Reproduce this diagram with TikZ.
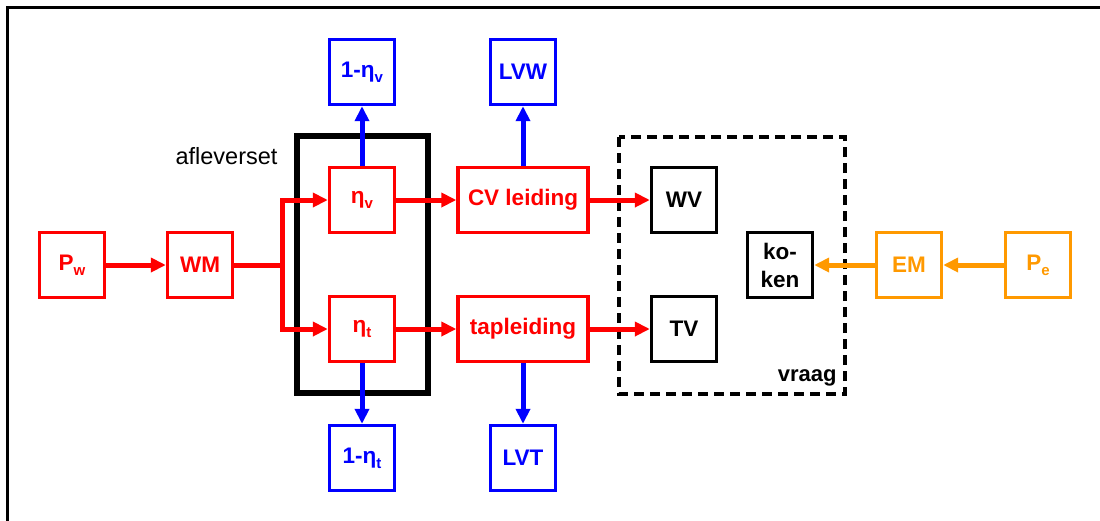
\documentclass[tikz,border=0pt]{standalone}
\usepackage{fontspec}
\setmainfont{Liberation Sans}
\usetikzlibrary{arrows.meta}
\definecolor{cred}{RGB}{255,0,0}
\definecolor{cblue}{RGB}{0,0,255}
\definecolor{corange}{RGB}{255,153,0}
\newcommand{\lsub}[1]{\raisebox{-0.22em}{\fontsize{15}{15}\selectfont #1}}
\begin{document}
\begin{tikzpicture}[x=1pt,y=-1pt,
  blk/.style={draw,line width=3.4pt,minimum width=65pt,minimum height=65pt,inner sep=0pt,
    font=\fontsize{22.5}{28}\selectfont\bfseries,align=center},
  redbox/.style={blk,draw=cred,text=cred},
  bluebox/.style={blk,draw=cblue,text=cblue},
  orbox/.style={blk,draw=corange,text=corange},
  blackbox/.style={blk,draw=black,text=black},
  arr/.style={line width=5pt,-{Triangle[length=15pt 0,width=14pt 0]}},
  redarr/.style={arr,draw=cred},
  bluearr/.style={arr,draw=cblue},
  orarr/.style={arr,draw=corange}]
\useasboundingbox (0,0) rectangle (1100,520);
\draw[line width=3pt] (7.5,530) -- (7.5,7.5) -- (1110,7.5);

% afleverset box
\draw[line width=6pt] (297,136) rectangle (428,393);
\node[anchor=base east,font=\fontsize{23.5}{23.5}\selectfont] (aflt) at (281,164) {afleverset};

% vraag box
\draw[line width=3.2pt,dash pattern=on 10pt off 6pt] (619,137) rectangle (845,394);
\node[anchor=base east,font=\fontsize{22}{22}\selectfont\bfseries] (vraagt) at (840,381) {vraag};

% nodes
\node[redbox] (pw) at (72,265) {P\lsub{w}};
\node[redbox] (wm) at (200,265) {WM};
\node[redbox] (ev) at (362,200) {η\lsub{v}};
\node[redbox] (et) at (362,329) {η\lsub{t}};
\node[redbox,minimum width=130pt] (cv) at (523,200) {CV leiding};
\node[redbox,minimum width=130pt] (tap) at (523,329) {tapleiding};
\node[bluebox] (oev) at (362,72) {1-η\lsub{v}};
\node[bluebox] (oet) at (362,458) {1-η\lsub{t}};
\node[bluebox] (lvw) at (523,72) {LVW};
\node[bluebox] (lvt) at (523,458) {LVT};
\node[blackbox] (wv) at (684,200) {WV};
\node[blackbox] (tv) at (684,329) {TV};
\node[blackbox] (kok) at (780,265) {ko-\\ken};
\node[orbox] (em) at (909,265) {EM};
\node[orbox] (pe) at (1038,265) {P\lsub{e}};

\coordinate (split) at (282,265);

% connectors
\draw[redarr] (pw) -- (wm);
\draw[line width=5pt,draw=cred] (wm.east) -- (split);
\draw[redarr] (split) |- (ev.west);
\draw[redarr] (split) |- (et.west);
\draw[redarr] (ev) -- (cv);
\draw[redarr] (et) -- (tap);
\draw[redarr] (cv) -- (wv);
\draw[redarr] (tap) -- (tv);
\draw[bluearr] (ev) -- (oev);
\draw[bluearr] (et) -- (oet);
\draw[bluearr] (cv) -- (lvw);
\draw[bluearr] (tap) -- (lvt);
\draw[orarr] (pe) -- (em);
\draw[orarr] (em) -- (kok);
\end{tikzpicture}
\end{document}
